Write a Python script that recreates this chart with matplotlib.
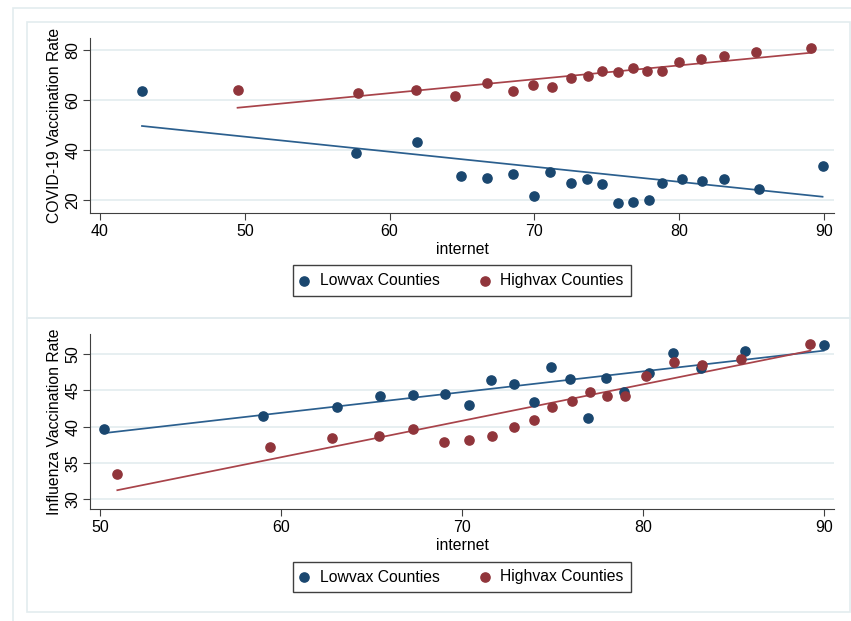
import numpy as np
import matplotlib.pyplot as plt
from matplotlib.patches import Rectangle

plt.rcParams['font.family'] = ['Liberation Sans', 'DejaVu Sans']

# COVID-19 panel
covid_low_x = [42.9, 57.7, 61.9, 64.9, 66.7, 68.5, 70.0, 71.1, 72.5, 73.6, 74.7, 75.8, 76.8,
               77.9, 78.8, 80.2, 81.6, 83.1, 85.5, 89.9]
covid_low_y = [63.6, 38.8, 43.2, 29.6, 28.9, 30.4, 21.6, 31.2, 26.8, 28.5, 26.5, 18.8, 19.2,
               20.1, 26.7, 28.5, 27.5, 28.5, 24.4, 33.7]
covid_high_x = [49.5, 57.8, 61.8, 64.5, 66.7, 68.5, 69.9, 71.2, 72.5, 73.7, 74.7, 75.8, 76.8,
                77.8, 78.8, 80.0, 81.5, 83.1, 85.3, 89.1]
covid_high_y = [64.0, 62.7, 64.1, 61.7, 66.7, 63.6, 66.1, 65.3, 68.9, 69.6, 71.5, 71.1, 72.7,
                71.7, 71.6, 75.3, 76.3, 77.6, 79.3, 80.9]
# fitted lines (intercept, slope)
covid_low_fit = [75.43, -0.602]
covid_high_fit = [29.40, 0.5556]

# influenza panel
flu_low_x = [50.2, 59.0, 63.1, 65.5, 67.3, 69.05, 70.4, 71.6, 72.9, 74.0, 74.95, 76.0, 76.95,
             77.97, 78.96, 80.37, 81.66, 83.2, 85.65, 90.0]
flu_low_y = [39.7, 41.4, 42.75, 44.3, 44.4, 44.5, 43.0, 46.4, 45.9, 43.4, 48.2, 46.6, 41.2,
             46.7, 44.8, 47.4, 50.2, 48.15, 50.45, 51.3]
flu_high_x = [50.96, 59.4, 62.85, 65.4, 67.3, 69.0, 70.37, 71.65, 72.87, 73.97, 75.0, 76.07,
              77.06, 78.0, 79.0, 80.2, 81.7, 83.3, 85.45, 89.27]
flu_high_y = [33.45, 37.2, 38.4, 38.7, 39.6, 37.9, 38.2, 38.7, 40.0, 40.9, 42.7, 43.55, 44.8,
              44.2, 44.3, 47.0, 49.0, 48.5, 49.4, 51.4]
flu_low_fit = [24.70, 0.2867]
flu_high_fit = [5.53, 0.5038]

navy = '#1a476f'
maroon = '#90353b'
navy_line = '#2b5f8e'
maroon_line = '#a8434a'
faint = '#e3ecef'

fig = plt.figure(figsize=(8.51, 6.21), dpi=100)
W, H = 851, 621


def frame(x0, y0, x1, y1):
    fig.patches.append(Rectangle((x0 / W, 1 - y1 / H), (x1 - x0) / W, (y1 - y0) / H,
                                 transform=fig.transFigure, fill=False,
                                 edgecolor=faint, linewidth=1.2))


frame(13, 8, 860, 630)
frame(27, 22, 850, 318)
frame(27, 318, 850, 612)


def panel(rect, lx, ly, lfit, hx, hy, hfit, xlim, ylim, xticks, yticks, ylabel, legend_y):
    ax = fig.add_axes(rect)
    ax.scatter(lx, ly, s=44, color=navy, zorder=3, label='Lowvax Counties')
    ax.scatter(hx, hy, s=44, color=maroon, zorder=3, label='Highvax Counties')
    for xs, fit, c in [(lx, lfit, navy_line), (hx, hfit, maroon_line)]:
        xx = np.array([min(xs), max(xs)])
        ax.plot(xx, fit[0] + fit[1] * xx, color=c, lw=1.25, zorder=2)
    ax.set_xlim(xlim)
    ax.set_ylim(ylim)
    ax.set_xticks(xticks)
    ax.set_yticks(yticks)
    ax.yaxis.grid(True, color=faint, lw=1.2)
    ax.set_axisbelow(True)
    for s in ['top', 'right']:
        ax.spines[s].set_visible(False)
    for s in ['left', 'bottom']:
        ax.spines[s].set_color('#404040')
    ax.tick_params(axis='both', length=5, color='#404040', labelsize=11.5, pad=3)
    ax.tick_params(axis='y', pad=2)
    plt.setp(ax.get_yticklabels(), rotation=90, va='center')
    ax.set_ylabel(ylabel, fontsize=11.3, labelpad=2)
    ax.set_xlabel('internet', fontsize=11.3, labelpad=2)
    fig.legend(*ax.get_legend_handles_labels(), loc='center', ncol=2,
               bbox_to_anchor=(462 / W, legend_y), fontsize=11.3, fancybox=False,
               edgecolor='#404040', framealpha=1, handletextpad=0.75, columnspacing=2.6,
               borderpad=0.5, handlelength=0.5)
    return ax


ax1 = panel([90 / W, 1 - 213 / H, 744 / W, 175 / H],
            covid_low_x, covid_low_y, covid_low_fit, covid_high_x, covid_high_y, covid_high_fit,
            (39.31, 90.69), (14.8, 84.8), [40, 50, 60, 70, 80, 90], [20, 40, 60, 80],
            'COVID-19 Vaccination Rate', 1 - 280.5 / H)
ax2 = panel([90 / W, 1 - 509.3 / H, 744 / W, 175 / H],
            flu_low_x, flu_low_y, flu_low_fit, flu_high_x, flu_high_y, flu_high_fit,
            (49.45, 90.57), (28.56, 52.77), [50, 60, 70, 80, 90], [30, 35, 40, 45, 50],
            'Influenza Vaccination Rate', 1 - 577 / H)

fig.savefig('out.png', dpi=100)
